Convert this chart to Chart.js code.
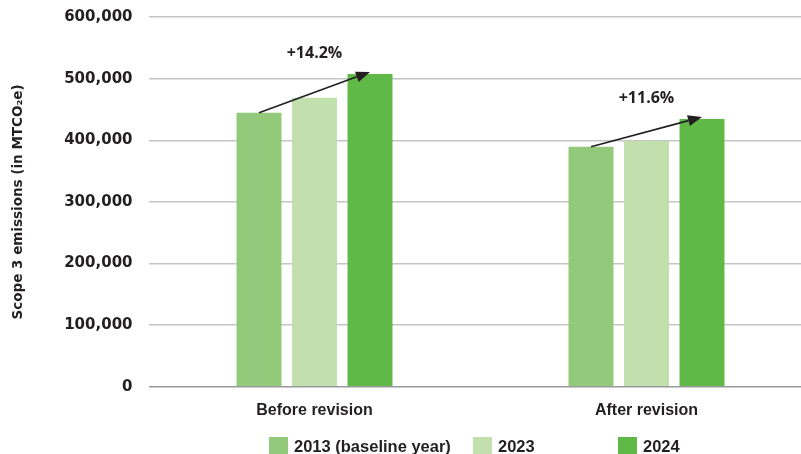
<!DOCTYPE html>
<html>
<head>
<meta charset="utf-8">
<script src="https://cdn.jsdelivr.net/npm/chart.js@4/dist/chart.umd.min.js"></script>
<style>
  html, body { margin: 0; padding: 0; background: #fff; overflow: hidden; }
  #wrap { width: 814px; height: 454px; }
</style>
</head>
<body>
<div id="wrap"><canvas id="c" width="814" height="454"></canvas></div>
<script>
// ---- data ----
const categories = ['Before revision', 'After revision'];
const seriesNames = ['2013 (baseline year)', '2023', '2024'];
const values2013 = [444500, 389500];
const values2023 = [469000, 399000];
const values2024 = [507500, 434500];
const changeLabels = ['+14.2%', '+11.6%'];
const yTicks = [0, 100000, 200000, 300000, 400000, 500000, 600000];
const yTitle = 'Scope 3 emissions (in MTCO\u2082e)';

const colors = ['#93c97a', '#c1e0ae', '#60b946'];
const ink = '#231f20';

const arrowPlugin = {
  id: 'arrows',
  afterDatasetsDraw(chart) {
    const ctx = chart.ctx;
    const m0 = chart.getDatasetMeta(0).data;
    const m1 = chart.getDatasetMeta(1).data;
    const m2 = chart.getDatasetMeta(2).data;
    ctx.save();
    for (let i = 0; i < m0.length; i++) {
      const x1 = m0[i].x, y1 = m0[i].y;
      const x2 = m2[i].x, y2 = m2[i].y - 2;
      const ang = Math.atan2(y2 - y1, x2 - x1);
      const hl = 14, hw = 5.5;
      const bx = x2 - hl * Math.cos(ang), by = y2 - hl * Math.sin(ang);
      ctx.strokeStyle = ink; ctx.fillStyle = ink; ctx.lineWidth = 1.6;
      ctx.beginPath(); ctx.moveTo(x1, y1); ctx.lineTo(bx, by); ctx.stroke();
      ctx.beginPath();
      ctx.moveTo(x2, y2);
      ctx.lineTo(bx + hw * Math.sin(ang), by - hw * Math.cos(ang));
      ctx.lineTo(bx - hw * Math.sin(ang), by + hw * Math.cos(ang));
      ctx.closePath(); ctx.fill();
      ctx.font = 'bold 16px "Open Sans"';
      ctx.textAlign = 'center'; ctx.textBaseline = 'middle';
      ctx.fillText(changeLabels[i], m1[i].x, m2[i].y - 21);
    }
    ctx.restore();
  }
};

const legendPlugin = {
  id: 'customLegend',
  afterDraw(chart, args, opts) {
    const ctx = chart.ctx;
    ctx.save();
    const y = chart.height - 17;
    chart.data.datasets.forEach((ds, i) => {
      const x = opts.xs[i];
      ctx.fillStyle = ds.backgroundColor;
      ctx.fillRect(x, y, 19, 20);
      ctx.fillStyle = ink;
      ctx.font = 'bold 16.5px "Liberation Sans", Arial, sans-serif';
      ctx.textAlign = 'left'; ctx.textBaseline = 'middle';
      ctx.fillText(ds.label, x + 25, y + 10);
    });
    ctx.restore();
  }
};

new Chart(document.getElementById('c'), {
  type: 'bar',
  data: {
    labels: categories,
    datasets: [
      { label: seriesNames[0], data: values2013, backgroundColor: colors[0] },
      { label: seriesNames[1], data: values2023, backgroundColor: colors[1] },
      { label: seriesNames[2], data: values2024, backgroundColor: colors[2] }
    ]
  },
  options: {
    responsive: false,
    animation: false,
    devicePixelRatio: 1,
    categoryPercentage: 0.5015,
    barPercentage: 0.81,
    layout: { padding: { top: 17, right: 1.5, bottom: 20, left: 0 } },
    plugins: {
      legend: { display: false },
      tooltip: { enabled: false },
      customLegend: { xs: [269, 473, 618] }
    },
    scales: {
      x: {
        grid: { display: false, drawTicks: false },
        border: { display: false },
        ticks: {
          color: ink, padding: 14,
          font: { family: '"Liberation Sans", Arial, sans-serif', size: 16, weight: 'bold' }
        }
      },
      y: {
        min: 0, max: 600000,
        afterFit(s) { s.width = 148.5; s.paddingTop = 0; },
        afterBuildTicks(s) { s.ticks = yTicks.map(v => ({ value: v })); },
        grid: {
          drawTicks: false,
          lineWidth: 1.5,
          color: (c) => c.tick && c.tick.value === 0 ? '#9a9a9a' : '#c6c6c6'
        },
        border: { display: false },
        ticks: {
          color: ink, padding: 16,
          font: { family: '"DejaVu Sans"', size: 15, weight: 'bold' },
          callback: (v) => Number(v).toLocaleString('en-US')
        },
        title: {
          display: true, text: yTitle, color: ink,
          padding: { top: 10, bottom: 0 },
          font: { family: '"DejaVu Sans"', size: 13.5, weight: 'bold' }
        }
      }
    }
  },
  plugins: [arrowPlugin, legendPlugin]
});
</script>
</body>
</html>
